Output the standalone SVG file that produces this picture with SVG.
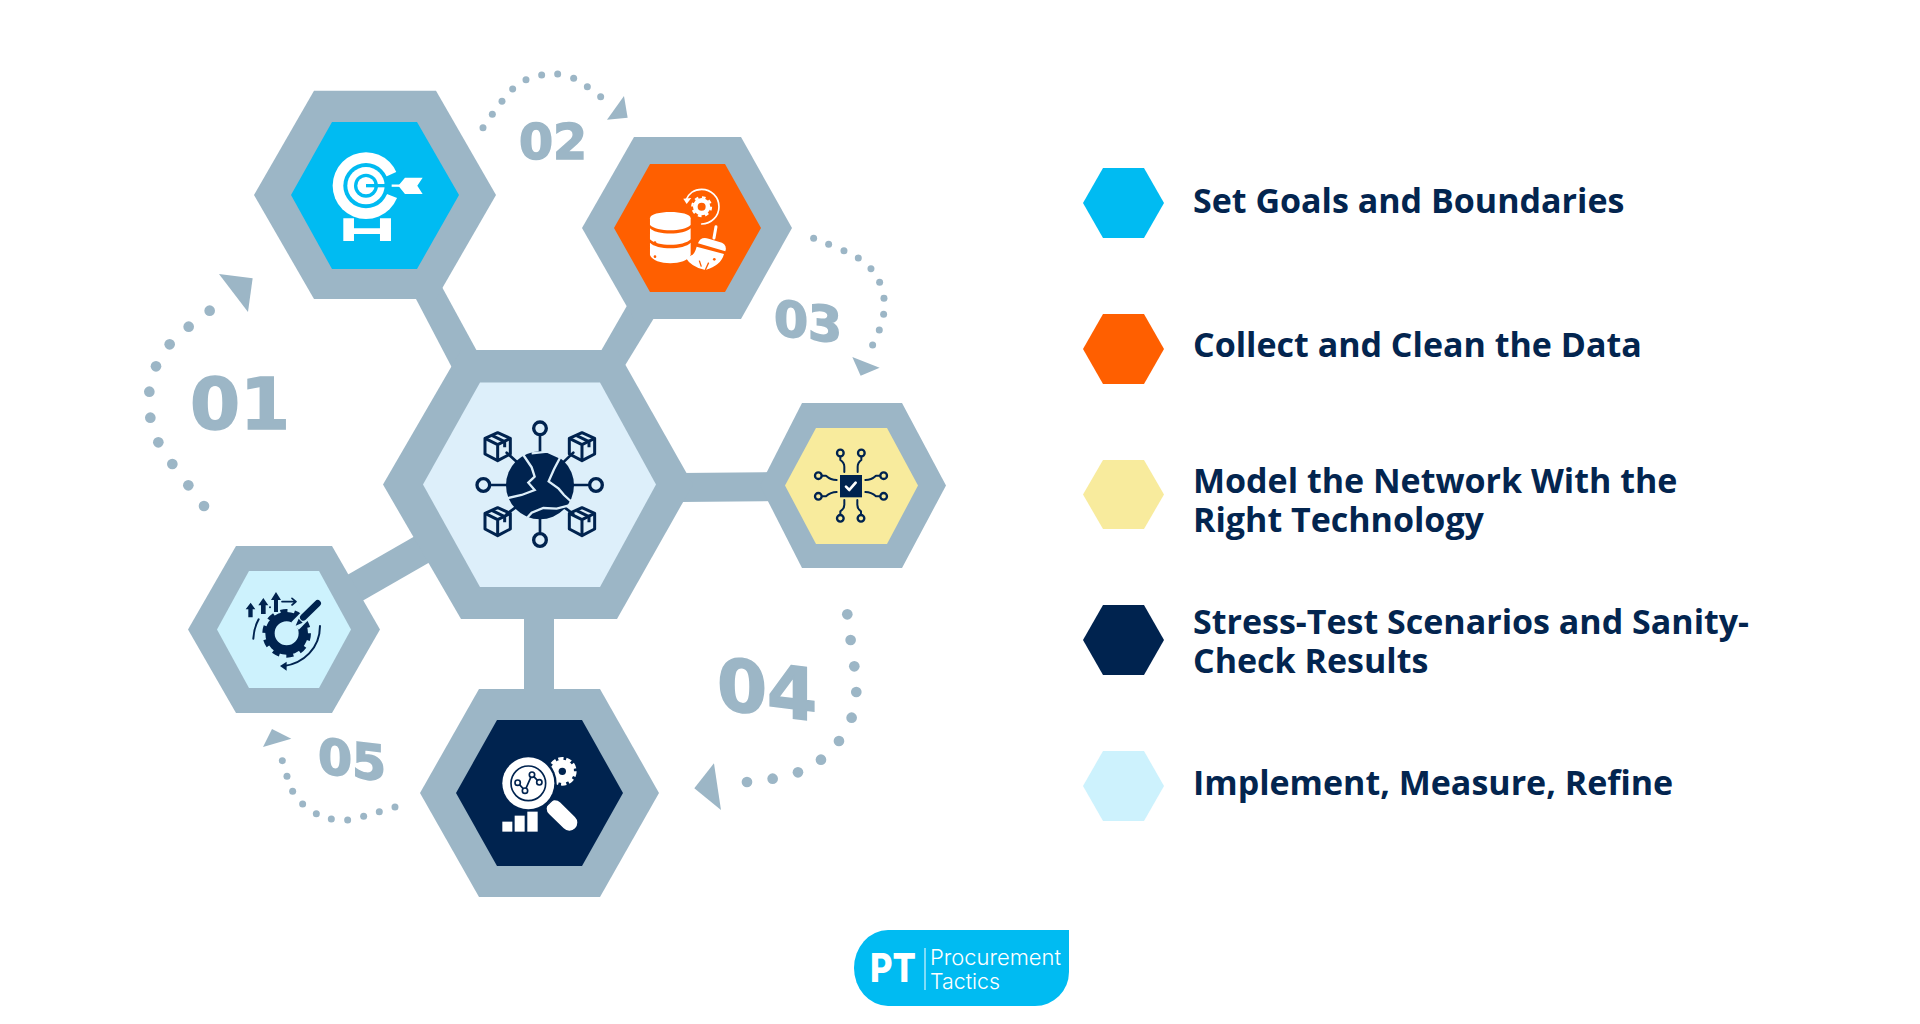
<svg xmlns="http://www.w3.org/2000/svg" width="1920" height="1024" viewBox="0 0 1920 1024">
<style>
.g{fill:#9cb6c6}
.num{font-family:"DejaVu Sans",sans-serif;font-weight:700;fill:#9cb6c6;stroke:#9cb6c6;stroke-width:1.6px;text-anchor:middle}
.lg{font-family:"Open Sans","Noto Sans",sans-serif;font-weight:700;font-size:34px;fill:#03254f}
.nv{fill:#00234f}.w{fill:#fff}
.sn{fill:none;stroke:#00234f;stroke-linecap:round;stroke-linejoin:round}
.sw{fill:none;stroke:#fff;stroke-linecap:round;stroke-linejoin:round}
</style>
<defs>
<circle id="d" r="16" fill="#9cb6c6"/>
<circle id="ds" r="10.500" fill="#9cb6c6"/>
<g id="cube" fill="none" stroke="#00234f" stroke-width="9" stroke-linejoin="round">
<path d="M0,-42 L38,-25 V22 L0,42 L-38,22 V-25Z"/><path d="M-38,-25 L0,-6 L38,-25 M0,-6 V42"/><path d="M-16,-33 L21,-15 V2"/>
</g>
</defs>
<rect width="1920" height="1024" fill="#fff"/>

<g id="connectors">
<polygon class="g" points="416,299 442,287 490,375 460,383"/>
<polygon class="g" points="636,290 665,300 610,390 590,370"/>
<polygon class="g" points="680,473 780,472 780,501 680,502"/>
<polygon class="g" points="524,610 554,610 554,700 524,700"/>
<polygon class="g" points="335,582 443,520 458,546 350,608"/>
<g id="arc-01" transform="translate(130 260) scale(.3333)">
<use href="#d" x="222" y="738"/><use href="#d" x="175" y="676"/><use href="#d" x="127" y="612"/><use href="#d" x="85" y="547"/><use href="#d" x="61" y="473"/><use href="#d" x="58" y="395"/><use href="#d" x="78" y="319"/><use href="#d" x="119" y="253"/><use href="#d" x="176" y="200"/><use href="#d" x="239" y="152"/>
<polygon class="g" points="267,42 368,55 354,156"/>
</g>
<g id="arc-02" transform="translate(470 50) scale(.3333)">
<use href="#ds" x="39" y="233"/><use href="#ds" x="67" y="193"/><use href="#ds" x="96" y="154"/><use href="#ds" x="128" y="117"/><use href="#ds" x="168" y="89"/><use href="#ds" x="215" y="75"/><use href="#ds" x="263" y="72"/><use href="#ds" x="311" y="85"/><use href="#ds" x="352" y="110"/><use href="#ds" x="392" y="140"/>
<polygon class="g" points="462,138 473,203 411,209"/>
<use href="#ds" x="1031" y="565"/><use href="#ds" x="1076" y="583"/><use href="#ds" x="1122" y="602"/><use href="#ds" x="1165" y="624"/><use href="#ds" x="1203" y="656"/><use href="#ds" x="1229" y="697"/><use href="#ds" x="1242" y="745"/><use href="#ds" x="1241" y="793"/><use href="#ds" x="1228" y="840"/><use href="#ds" x="1208" y="885"/>
<polygon class="g" points="1147,921 1229,953 1172,977"/>
</g>
<g id="arc-04" transform="translate(440 600) scale(.3333)">
<use href="#d" x="1222" y="43"/><use href="#d" x="1232" y="120"/><use href="#d" x="1243" y="199"/><use href="#d" x="1249" y="276"/><use href="#d" x="1235" y="353"/><use href="#d" x="1197" y="423"/><use href="#d" x="1143" y="479"/><use href="#d" x="1074" y="517"/><use href="#d" x="998" y="536"/><use href="#d" x="921" y="546"/>
<polygon class="g" points="822,490 843,630 763,565"/>
</g>
<g id="arc-05" transform="translate(130 520) scale(.3333)">
<use href="#ds" x="457" y="722"/><use href="#ds" x="471" y="769"/><use href="#ds" x="488" y="814"/><use href="#ds" x="518" y="852"/><use href="#ds" x="559" y="881"/><use href="#ds" x="604" y="897"/><use href="#ds" x="653" y="900"/><use href="#ds" x="701" y="889"/><use href="#ds" x="748" y="875"/><use href="#ds" x="795" y="861"/>
<polygon class="g" points="426,627 484,656 399,681"/>
</g>
</g>

<g id="numbers">
<text class="num" x="240" y="429" font-size="72">01</text>
<text class="num" x="553" y="159" font-size="49">02</text>
<text class="num" font-size="49" transform="translate(808 339) skewY(7)">03</text>
<text class="num" font-size="72" transform="translate(767 715) skewY(7)">04</text>
<text class="num" font-size="49" transform="translate(352 777) skewY(7)">05</text>
</g>

<g id="node-center">
<polygon class="g" points="383,484.500 461,350 617,350 693,484.500 617,619 461,619"/>
<polygon fill="#ddeffa" points="423,484.500 480,382.500 600,382.500 656,484.500 600,587 480,587"/>
<g transform="translate(460 410) scale(.3333)">
<path class="sn" stroke-width="8" d="M240,75 V135 M240,320 V368 M90,225 H150 M335,225 H388 M140,128 L170,155 M340,128 L312,155 M140,312 L170,290 M340,312 L310,290"/>
<circle cx="240" cy="55" r="19" fill="none" stroke="#00234f" stroke-width="10"/><circle cx="240" cy="390" r="19" fill="none" stroke="#00234f" stroke-width="10"/><circle cx="70" cy="225" r="19" fill="none" stroke="#00234f" stroke-width="10"/><circle cx="408" cy="225" r="19" fill="none" stroke="#00234f" stroke-width="10"/>
<use href="#cube" x="113" y="110"/><use href="#cube" x="366" y="110"/><use href="#cube" x="113" y="335"/><use href="#cube" x="366" y="335"/>
<circle class="nv" cx="240" cy="226" r="102"/>
<g fill="none" stroke="#ddeffa" stroke-width="7" stroke-linejoin="miter">
<path d="M188,132 L215,172 L224,200 L205,218 L224,240 L185,255 L140,265"/>
<path d="M306,132 L282,178 L266,214 L296,236 L312,255 L345,285"/>
<path d="M200,325 L215,308 L250,294 L290,296 L345,282"/>
<path d="M215,130 L262,125 L300,142"/>
</g>
</g>
</g>

<g id="node-01">
<polygon class="g" points="254,195 314,90.700 436,90.700 496,195 436,299 314,299"/>
<polygon fill="#00bbf2" points="291,195 332,122 417,122 459,195 417,269 332,269"/>
<g transform="translate(130 50) scale(.3333)">
<path class="w" d="M640,505 H672 V535 H750 V505 H783 V573 H750 V552 H672 V573 H640Z"/>
<circle class="w" cx="708" cy="407" r="100"/>
<polygon fill="#00bbf2" points="708,407 830,352 830,455"/>
<circle cx="708" cy="407" r="68" fill="#00bbf2"/>
<circle class="w" cx="708" cy="407" r="56"/>
<circle cx="708" cy="407" r="36" fill="#00bbf2"/>
<circle class="w" cx="708" cy="407" r="26"/>
<path d="M708,407 H785" stroke="#00bbf2" stroke-width="10"/>
<path d="M785,407 H815" stroke="#fff" stroke-width="7"/>
<polygon class="w" points="805,407 825,383 878,383 862,407 878,432 825,432"/>
</g>
</g>

<g id="node-02">
<polygon class="g" points="582,228 634,137 741,137 792,228 741,319 634,319"/>
<polygon fill="#ff5f00" points="614,228 650,164 725,164 761,228 725,292 650,292"/>
<g transform="translate(470 50) scale(.3333)">
<path class="w" d="M540,505 C540,480 662,480 662,505 V525 C642,546 560,546 540,525Z"/>
<path class="w" d="M540,535 C560,556 642,556 662,535 V568 C642,590 560,590 540,568Z"/>
<path class="w" d="M540,578 C560,600 642,600 662,578 V615 C650,648 552,648 540,615Z"/>
<g fill="#ff5f00"><circle cx="555" cy="540" r="4"/><circle cx="555" cy="578" r="4"/><circle cx="555" cy="620" r="4"/></g>
<circle cx="695" cy="470" r="19" fill="none" stroke="#fff" stroke-width="14"/>
<circle cx="695" cy="470" r="28" fill="none" stroke="#fff" stroke-width="7" stroke-dasharray="11 11"/>
<path class="sw" stroke-width="5" d="M695,522 A52,52 0 0 0 695,418 C672,418 655,432 648,450"/>
<polygon class="w" points="640,446 664,444 650,462"/>
<path class="sw" stroke-width="9" d="M738,530 L732,564"/>
<path class="w" d="M684,580 Q692,558 716,566 L756,578 Q772,586 766,604Z"/>
<path class="w" d="M680,590 L762,612 Q754,646 706,660 Q664,652 645,620 Q672,624 680,590Z"/>
<path d="M688,632 L694,650 M716,638 L706,660" stroke="#ff5f00" stroke-width="4"/>
<circle cx="733" cy="628" r="4" fill="#ff5f00"/>
</g>
</g>

<g id="node-03">
<polygon class="g" points="760,485.500 802,403 902,403 946,485.500 902,568 802,568"/>
<polygon fill="#f8eb9d" points="785,485.500 816,428 887,428 918,485.500 887,544 816,544"/>
<g transform="translate(790 430) scale(.3333)">
<rect class="nv" x="150" y="135" width="66" height="67"/>
<path class="sw" stroke-width="8" d="M168,170 L178,180 L197,158"/>
<g fill="none" stroke="#00234f" stroke-width="7"><circle cx="151" cy="69" r="10"/><circle cx="214" cy="69" r="10"/><circle cx="151" cy="265" r="10"/><circle cx="213" cy="265" r="10"/><circle cx="85" cy="137" r="10"/><circle cx="85" cy="199" r="10"/><circle cx="281" cy="137" r="10"/><circle cx="281" cy="199" r="10"/></g>
<path class="sn" stroke-width="6" d="M151,80 V90 Q163,98 163,110 V126 M214,80 V90 Q203,98 203,110 V126 M151,254 V244 Q163,236 163,224 V210 M213,254 V244 Q202,236 202,224 V210 M96,137 H108 Q122,150 140,150 M96,199 H108 Q122,186 140,186 M270,137 H258 Q244,150 226,150 M270,199 H258 Q244,186 226,186"/>
</g>
</g>

<g id="node-04">
<polygon class="g" points="420,793 479,689 600,689 659,793 600,897 479,897"/>
<polygon class="nv" points="456,793 497,720 582,720 623,793 582,866 497,866"/>
<g transform="translate(440 600) scale(.3333)">
<circle class="w" cx="367" cy="514" r="35"/>
<circle cx="367" cy="514" r="38" fill="none" stroke="#fff" stroke-width="10" stroke-dasharray="15.700 8"/>
<circle class="nv" cx="367" cy="514" r="11"/>
<circle class="nv" cx="265" cy="550" r="85"/>
<circle class="w" cx="265" cy="550" r="78"/>
<circle cx="265" cy="550" r="52" fill="none" stroke="#00234f" stroke-width="5"/>
<path class="sn" stroke-width="5" d="M233,548 L255,572 L276,524 L298,547"/>
<g fill="#fff" stroke="#00234f" stroke-width="5"><circle cx="233" cy="548" r="8"/><circle cx="255" cy="572" r="8"/><circle cx="276" cy="524" r="8"/><circle cx="298" cy="547" r="8"/></g>
<path class="sw" stroke-width="48" d="M344,625 L388,668"/>
<path d="M315,622 L340,598" stroke="#00234f" stroke-width="4"/>
<rect class="w" x="187" y="665" width="30" height="30"/><rect class="w" x="224" y="647" width="30" height="48"/><rect class="w" x="262" y="635" width="31" height="60"/>
</g>
</g>

<g id="node-05">
<polygon class="g" points="188,629.500 236,546 332,546 380,629.500 332,713 236,713"/>
<polygon fill="#cdf2fd" points="217,629.500 249,571 319,571 351,629.500 319,688 249,688"/>
<g transform="translate(130 520) scale(.3333)">
<circle cx="470" cy="340" r="50" fill="none" stroke="#00234f" stroke-width="28"/>
<circle cx="470" cy="340" r="66" fill="none" stroke="#00234f" stroke-width="14" stroke-dasharray="21 20.500"/>
<path d="M572,240 L495,318" stroke="#cdf2fd" stroke-width="32"/>
<path class="sn" stroke-width="20" d="M563,250 L520,292"/>
<polygon class="nv" points="497,317 506,296 518,308"/>
<path class="sn" stroke-width="6" d="M570,318 C570,385 520,430 462,438 M386,298 C376,316 371,335 370,356"/>
<polygon class="nv" points="450,438 470,425 470,452"/>
<g class="nv"><polygon points="362,248 376,268 368,268 368,292 355,292 355,268 347,268"/><polygon points="400,234 415,256 407,256 407,282 393,282 393,256 385,256"/><polygon points="438,216 453,240 444,240 444,276 432,276 432,240 423,240"/><circle cx="420" cy="262" r="3"/></g>
<path class="sn" stroke-width="5" d="M456,245 H498 M486,235 L498,245 L486,255"/>
</g>
</g>

<g id="legend">
<g id="legend-1"><polygon fill="#00bbf2" points="1083,203 1103,168 1144,168 1164,203 1144,238 1103,238"/><text class="lg" x="1193" y="213">Set Goals and Boundaries</text></g>
<g id="legend-2"><polygon fill="#ff5f00" points="1083,349 1103,314 1144,314 1164,349 1144,384 1103,384"/><text class="lg" x="1193" y="357">Collect and Clean the Data</text></g>
<g id="legend-3"><polygon fill="#f8eb9d" points="1083,494.500 1103,460 1144,460 1164,494.500 1144,529 1103,529"/><text class="lg" x="1193" y="493">Model the Network With the</text><text class="lg" x="1193" y="531.500">Right Technology</text></g>
<g id="legend-4"><polygon class="nv" points="1083,640 1103,605 1144,605 1164,640 1144,675 1103,675"/><text class="lg" x="1193" y="633.500">Stress-Test Scenarios and Sanity-</text><text class="lg" x="1193" y="672.500">Check Results</text></g>
<g id="legend-5"><polygon fill="#cdf2fd" points="1083,786 1103,751 1144,751 1164,786 1144,821 1103,821"/><text class="lg" x="1193" y="795">Implement, Measure, Refine</text></g>
</g>

<g id="logo">
<path fill="#00bbf2" d="M888,930 H1069 V972 A34,34 0 0 1 1035,1006 H888 A34,38 0 0 1 888,930Z"/>
<text x="870" y="982" font-family="Inter,sans-serif" font-weight="800" font-size="40" fill="#fff" textLength="46" lengthAdjust="spacingAndGlyphs">PT</text>
<path d="M925,948 V990" stroke="#fff" stroke-width="1"/>
<text x="930" y="965" font-family="Inter,sans-serif" font-weight="300" font-size="22" fill="#fff" textLength="131" lengthAdjust="spacingAndGlyphs">Procurement</text>
<text x="930" y="989" font-family="Inter,sans-serif" font-weight="300" font-size="22" fill="#fff" textLength="70" lengthAdjust="spacingAndGlyphs">Tactics</text>
</g>
</svg>
